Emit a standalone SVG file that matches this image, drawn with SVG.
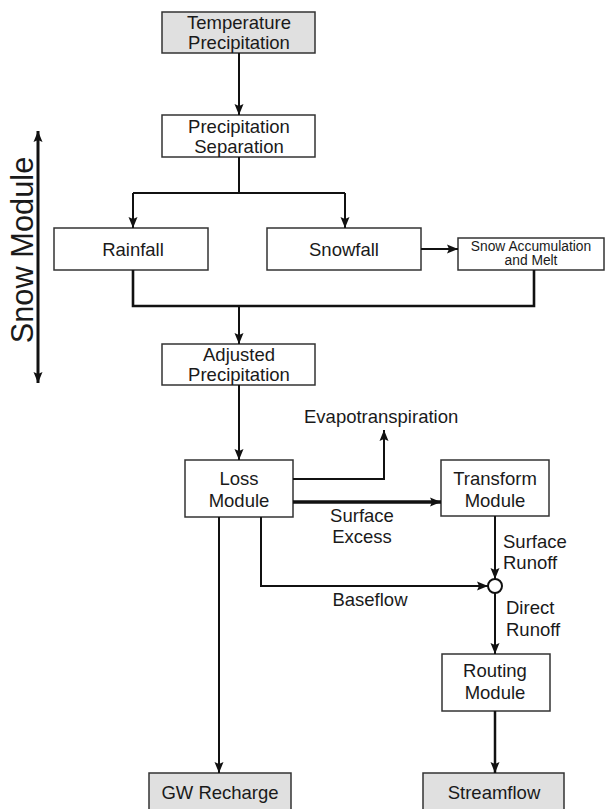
<svg xmlns="http://www.w3.org/2000/svg" width="606" height="809" viewBox="0 0 606 809">
<defs>
<marker id="ah" markerUnits="userSpaceOnUse" markerWidth="12" markerHeight="10" refX="11" refY="5" orient="auto-start-reverse">
<path d="M0,0.5 L11,5 L0,9.5 L2,5 z" fill="#111"/>
</marker>
</defs>
<style>
.box{fill:#fff;stroke:#333;stroke-width:1.5}
.gray{fill:#e0e0e0;stroke:#333;stroke-width:1.5}
text{font-family:"Liberation Sans",Arial,sans-serif;font-size:18.5px;fill:#1a1a1a}
.c{text-anchor:middle}
.sm{font-size:13.8px}
.con{fill:none;stroke:#111;stroke-width:2}
.thick{stroke-width:3}
</style>
<rect width="606" height="809" fill="#fff"/>
<g id="temperature-precipitation">
<rect class="gray" x="162" y="12" width="153" height="41"/>
<text class="c" x="239" y="29">Temperature</text>
<text class="c" x="239" y="49">Precipitation</text>
</g>
<g id="precipitation-separation">
<rect class="box" x="162" y="115" width="153" height="42"/>
<text class="c" x="239" y="133">Precipitation</text>
<text class="c" x="239" y="152.5">Separation</text>
</g>
<g id="rainfall">
<rect class="box" x="54" y="228" width="154" height="42"/>
<text class="c" x="133" y="255.5">Rainfall</text>
</g>
<g id="snowfall">
<rect class="box" x="267" y="228" width="154" height="42"/>
<text class="c" x="344" y="255.5">Snowfall</text>
</g>
<g id="snow-accumulation">
<rect class="box" x="458" y="238" width="146" height="32"/>
<text class="c sm" x="531" y="251">Snow Accumulation</text>
<text class="c sm" x="531" y="265">and Melt</text>
</g>
<g id="adjusted-precipitation">
<rect class="box" x="162" y="344" width="153" height="41"/>
<text class="c" x="239" y="361">Adjusted</text>
<text class="c" x="239" y="381">Precipitation</text>
</g>
<g id="loss-module">
<rect class="box" x="185" y="460" width="108" height="57"/>
<text class="c" x="239" y="485">Loss</text>
<text class="c" x="239" y="507">Module</text>
</g>
<g id="transform-module">
<rect class="box" x="441" y="460" width="108" height="56"/>
<text class="c" x="495" y="485">Transform</text>
<text class="c" x="495" y="507">Module</text>
</g>
<g id="junction">
<circle cx="495" cy="586" r="7" fill="#fff" stroke="#111" stroke-width="2"/>
</g>
<g id="routing-module">
<rect class="box" x="442" y="654" width="108" height="57"/>
<text class="c" x="495" y="677">Routing</text>
<text class="c" x="495" y="699">Module</text>
</g>
<g id="gw-recharge">
<rect class="gray" x="149" y="773" width="142" height="40"/>
<text class="c" x="220" y="799">GW Recharge</text>
</g>
<g id="streamflow">
<rect class="gray" x="423" y="773" width="141" height="40"/>
<text class="c" x="494" y="799">Streamflow</text>
</g>
<g id="snow-module-label">
<text class="c" style="font-size:30.8px" transform="translate(33,250) rotate(-90)">Snow Module</text>
</g>
<g id="connectors">
<path class="con" d="M239,53 V115" marker-end="url(#ah)"/>
<path class="con" d="M239,157 V193"/>
<path class="con" d="M133,193 H345"/>
<path class="con" d="M133,193 V228" marker-end="url(#ah)"/>
<path class="con" d="M345,193 V228" marker-end="url(#ah)"/>
<path class="con" d="M421,249 H458" marker-end="url(#ah)"/>
<path class="con" d="M133,270 V306 H534 V270" style="stroke-width:2.6"/>
<path class="con" d="M239,306 V344" marker-end="url(#ah)"/>
<path class="con" d="M239,385 V460" marker-end="url(#ah)"/>
<path class="con" d="M293,479 H384 V430" marker-end="url(#ah)"/>
<path class="con" d="M293,502 H441" style="stroke-width:3.5" marker-end="url(#ah)"/>
<path class="con" d="M495,516 V579" marker-end="url(#ah)"/>
<path class="con" d="M261,517 V586 H488" marker-end="url(#ah)"/>
<path class="con" d="M495,593 V654" marker-end="url(#ah)"/>
<path class="con" d="M495,711 V773" style="stroke-width:2.5" marker-end="url(#ah)"/>
<path class="con" d="M219,517 V773" marker-end="url(#ah)"/>
<path class="con thick" d="M38,131 V383" marker-start="url(#ah)" marker-end="url(#ah)"/>
</g>
<g id="labels">
<text x="304" y="423">Evapotranspiration</text>
<text class="c" x="362" y="522">Surface</text>
<text class="c" x="362" y="543">Excess</text>
<text class="c" x="370" y="606">Baseflow</text>
<text x="503" y="548">Surface</text>
<text x="503" y="569">Runoff</text>
<text x="506" y="614">Direct</text>
<text x="506" y="636">Runoff</text>
</g>
</svg>
